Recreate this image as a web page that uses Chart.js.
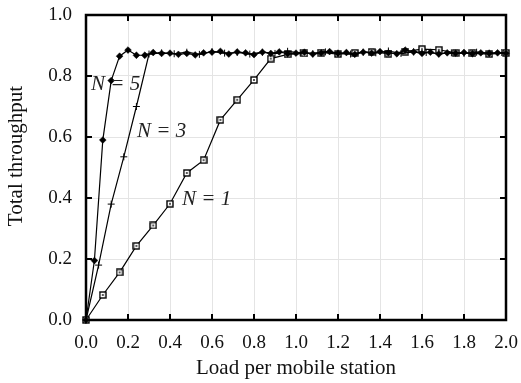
<!DOCTYPE html>
<html lang="en">
<head>
<meta charset="UTF-8">
<title>Total throughput</title>
<script src="https://cdn.jsdelivr.net/npm/chart.js"></script>
<style>
  html, body { margin: 0; padding: 0; background: #fff; }
  #wrap { width: 521px; height: 383px; }
</style>
</head>
<body>
<div id="wrap"><canvas id="myChart" width="521" height="383"></canvas></div>

<script>
// data
const loadN1 = [0, 0.08, 0.16, 0.24, 0.32, 0.40, 0.48, 0.56, 0.64, 0.72, 0.80, 0.88, 0.96,
  1.04, 1.12, 1.20, 1.28, 1.36, 1.44, 1.52, 1.60, 1.68, 1.76, 1.84, 1.92, 2.00];
const throughputN1 = [0, 0.082, 0.156, 0.243, 0.310, 0.381, 0.482, 0.524, 0.656, 0.722, 0.787, 0.857, 0.871,
  0.874, 0.877, 0.872, 0.876, 0.879, 0.873, 0.880, 0.888, 0.886, 0.876, 0.874, 0.872, 0.876];

const loadN3 = [0, 0.06, 0.12, 0.18, 0.24, 0.30, 0.36, 0.42, 0.48, 0.54, 0.60, 0.66, 0.72, 0.78,
  0.84, 0.90, 0.96, 1.02, 1.08, 1.14, 1.20, 1.26, 1.32, 1.38, 1.44, 1.50, 1.56, 1.62, 1.68,
  1.74, 1.80, 1.86, 1.92, 1.98];
const throughputN3 = [0, 0.18, 0.38, 0.535, 0.70, 0.872, 0.876, 0.873, 0.878, 0.871, 0.880, 0.875, 0.877, 0.872,
  0.878, 0.874, 0.881, 0.876, 0.873, 0.879, 0.875, 0.872, 0.878, 0.876, 0.882, 0.874, 0.879, 0.877, 0.873,
  0.876, 0.874, 0.878, 0.875, 0.877];

const loadN5 = [0, 0.04, 0.08, 0.12, 0.16, 0.20, 0.24, 0.28, 0.32, 0.36, 0.40, 0.44, 0.48, 0.52,
  0.56, 0.60, 0.64, 0.68, 0.72, 0.76, 0.80, 0.84, 0.88, 0.92, 0.96, 1.00, 1.04, 1.08, 1.12,
  1.16, 1.20, 1.24, 1.28, 1.32, 1.36, 1.40, 1.44, 1.48, 1.52, 1.56, 1.60, 1.64, 1.68, 1.72,
  1.76, 1.80, 1.84, 1.88, 1.92, 1.96, 2.00];
const throughputN5 = [0, 0.195, 0.59, 0.785, 0.865, 0.885, 0.868, 0.868, 0.877, 0.874, 0.875, 0.871, 0.874, 0.869,
  0.876, 0.878, 0.881, 0.872, 0.879, 0.876, 0.870, 0.878, 0.874, 0.879, 0.873, 0.875, 0.878, 0.872, 0.876,
  0.880, 0.874, 0.877, 0.871, 0.878, 0.875, 0.880, 0.876, 0.873, 0.885, 0.879, 0.874, 0.878, 0.872, 0.876,
  0.875, 0.877, 0.873, 0.876, 0.874, 0.876, 0.875];

// curve labels (text, anchored at data coordinates)
const curveLabels = ['N = 5', 'N = 3', 'N = 1'];
const labelLoad = [0.024, 0.243, 0.457];
const labelThroughput = [0.754, 0.60, 0.377];

const xTicks = [0, 0.2, 0.4, 0.6, 0.8, 1.0, 1.2, 1.4, 1.6, 1.8, 2.0];
const yTicks = [0, 0.2, 0.4, 0.6, 0.8, 1.0];

const tituloY = 'Total throughput';

function pares(xs, ys) {
    return xs.map((x, i) => ({ x: x, y: ys[i] }));
}

// square with a dot in it
const quadrado = document.createElement('canvas');
quadrado.width = 8;
quadrado.height = 8;
(function () {
    const c = quadrado.getContext('2d');
    c.fillStyle = '#fff';
    c.fillRect(1, 1, 6, 6);
    c.strokeStyle = '#000';
    c.lineWidth = 1.4;
    c.strokeRect(1, 1, 6, 6);
    c.fillStyle = '#000';
    c.fillRect(3.2, 3.2, 1.6, 1.6);
})();

const serif = "'Liberation Serif', 'Times New Roman', serif";

const moldura = {
    id: 'moldura',
    beforeDatasetsDraw(chart) {
        const ctx = chart.ctx;
        const a = chart.chartArea;
        const sx = chart.scales.x, sy = chart.scales.y;
        ctx.save();
        ctx.strokeStyle = '#000';
        ctx.lineWidth = 2;
        // inward tick marks on all four sides
        xTicks.forEach(v => {
            const px = sx.getPixelForValue(v);
            ctx.beginPath();
            ctx.moveTo(px, a.bottom); ctx.lineTo(px, a.bottom - 6);
            ctx.moveTo(px, a.top); ctx.lineTo(px, a.top + 6);
            ctx.stroke();
        });
        yTicks.forEach(v => {
            const py = sy.getPixelForValue(v);
            ctx.beginPath();
            ctx.moveTo(a.left, py); ctx.lineTo(a.left + 6, py);
            ctx.moveTo(a.right, py); ctx.lineTo(a.right - 6, py);
            ctx.stroke();
        });
        ctx.lineWidth = 2.5;
        ctx.strokeRect(a.left, a.top, a.right - a.left, a.bottom - a.top);
        ctx.restore();
    },
    afterDatasetsDraw(chart) {
        const ctx = chart.ctx;
        const sx = chart.scales.x, sy = chart.scales.y;
        ctx.save();
        ctx.fillStyle = '#222';
        ctx.font = 'italic 21px ' + serif;
        ctx.textBaseline = 'alphabetic';
        curveLabels.forEach((t, i) => {
            ctx.fillText(t, sx.getPixelForValue(labelLoad[i]), sy.getPixelForValue(labelThroughput[i]));
        });
        // y title sits a bit above the middle of the axis in the original
        ctx.fillStyle = '#111';
        ctx.font = '21px ' + serif;
        ctx.textAlign = 'center';
        ctx.textBaseline = 'middle';
        ctx.translate(16.5, 156);
        ctx.rotate(-Math.PI / 2);
        ctx.fillText(tituloY, 0, 0);
        ctx.restore();
    }
};

const ctx = document.getElementById('myChart').getContext('2d');

const myChart = new Chart(ctx, {
    type: 'scatter',
    data: {
        datasets: [{
            label: 'N = 5',
            data: pares(loadN5, throughputN5),
            showLine: true,
            borderColor: '#000',
            borderWidth: 1.2,
            backgroundColor: '#000',
            pointStyle: 'rectRot',
            pointRadius: 3.4,
            pointBorderWidth: 0.5,
            clip: false
        }, {
            label: 'N = 3',
            data: pares(loadN3, throughputN3),
            showLine: true,
            borderColor: '#000',
            borderWidth: 1.2,
            backgroundColor: '#000',
            pointStyle: 'cross',
            pointRadius: 3.5,
            pointBorderWidth: 1,
            clip: false
        }, {
            label: 'N = 1',
            data: pares(loadN1, throughputN1),
            showLine: true,
            borderColor: '#000',
            borderWidth: 1.2,
            pointStyle: quadrado,
            clip: false
        }]
    },
    plugins: [moldura],
    options: {
        responsive: false,
        animation: false,
        layout: { padding: { left: 0, right: 15, top: 15, bottom: 0 } },
        plugins: {
            legend: { display: false },
            tooltip: { enabled: false }
        },
        scales: {
            x: {
                type: 'linear',
                min: 0,
                max: 2,
                afterBuildTicks: s => { s.ticks = xTicks.map(v => ({ value: v })); },
                afterFit: s => { s.height = 63; s.paddingLeft = 0; s.paddingRight = 0; },
                grid: { color: '#e4e4e4', lineWidth: 1, drawTicks: false },
                border: { display: false },
                ticks: {
                    padding: 12,
                    color: '#111',
                    font: { family: serif, size: 19 },
                    callback: v => v.toFixed(1)
                },
                title: {
                    display: true,
                    text: 'Load per mobile station',
                    color: '#111',
                    font: { family: serif, size: 21 },
                    padding: { top: 0, bottom: 2 }
                }
            },
            y: {
                type: 'linear',
                min: 0,
                max: 1,
                afterBuildTicks: s => { s.ticks = yTicks.map(v => ({ value: v })); },
                afterFit: s => { s.width = 86; s.paddingTop = 0; s.paddingBottom = 0; },
                grid: { color: '#e4e4e4', lineWidth: 1, drawTicks: false },
                border: { display: false },
                ticks: {
                    padding: 14,
                    color: '#111',
                    font: { family: serif, size: 19 },
                    callback: v => v.toFixed(1)
                }
            }
        }
    }
});
</script>
</body>
</html>
